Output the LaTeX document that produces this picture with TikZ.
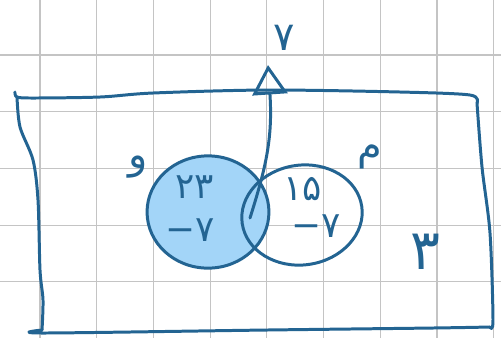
\documentclass[tikz,border=0pt]{standalone}
\usepackage{fontspec}
\usepackage{tikz}
\usetikzlibrary{arrows.meta,shapes.geometric}
\TeXXeTstate=1
\newfontfamily\fafont[Script=Arabic]{DejaVu Sans}
\newfontfamily\dvfont{DejaVu Sans}
\definecolor{Ink}{HTML}{236492}
\definecolor{Sky}{HTML}{A3D5F8}
\definecolor{Grid}{HTML}{C4C4C4}

\begin{document}
\begin{tikzpicture}[x=0.17637mm,y=-0.17637mm,
    g/.style={draw=Grid,line width=0.6pt},
    ink/.style={draw=Ink,line width=1.5pt,line cap=round,line join=round},
    s/.style={ink,ellipse,inner sep=0pt},
    t/.style={text=Ink,font=\fafont\fontsize{18}{20}\selectfont,inner sep=0pt},
    a/.style={ink,-{Triangle[open,length=5.2mm,width=6.2mm]}}]
  \useasboundingbox (0,0) rectangle (501,338);
  \foreach \i in {0,...,8} \draw[g] ({40+56.7*\i},0) -- ({40+56.7*\i},338);
  \foreach \j in {0,...,4} \draw[g] (0,{55+56.7*\j}) -- (501,{55+56.7*\j});
  % universe box, hand drawn
  \draw[ink] plot[smooth,tension=0.5] coordinates {(15,92) (17,97) (33,98) (100,97) (153,93) (267,90) (400,92) (470,95) (477,103)};
  \draw[ink] plot[smooth,tension=0.5] coordinates {(477,103) (482,167) (490,233) (493,320) (490,327)};
  \draw[ink] plot[smooth,tension=0.5] coordinates {(490,327) (433,328) (267,330) (43,333) (42,330)};
  \draw[ink] plot[smooth,tension=0.5] coordinates {(42,330) (43,300) (40,270) (38,200) (33,160) (20,127) (17,97)};
  % sets
  \node[s,fill=Sky,minimum width=21.5mm,minimum height=19.8mm] (V) at (208,212) {};
  \node[s,minimum width=21.3mm,minimum height=17.6mm,rotate=8] (M) at (302,215) {};
  \node[t,font=\fafont\fontsize{20}{22}\selectfont] (vName) at (138,167) {\beginR و\endR};
  \node[t,font=\fafont\fontsize{20}{22}\selectfont] (mName) at (370,157) {\beginR م\endR};
  \node[t] (vNum) at (195,187) {۲۳};
  \node[t] (vX) at (190,230) {{\dvfont −}۷};
  \node[t] (mNum) at (303,189) {۱۵};
  \node[t] (mX) at (316,226) {{\dvfont −}۷};
  \node[t,font=\fafont\fontsize{28}{30}\selectfont] (out) at (425,252) {۳};
  \node[t,font=\fafont\fontsize{20}{22}\selectfont] (lblU) at (284,38) {۷};
  \coordinate (aStart) at (250,218);
  \coordinate (aEnd) at (268,65);
  \draw[a] (aStart) .. controls (265,170) and (273,140) .. (aEnd);
\end{tikzpicture}
\end{document}
